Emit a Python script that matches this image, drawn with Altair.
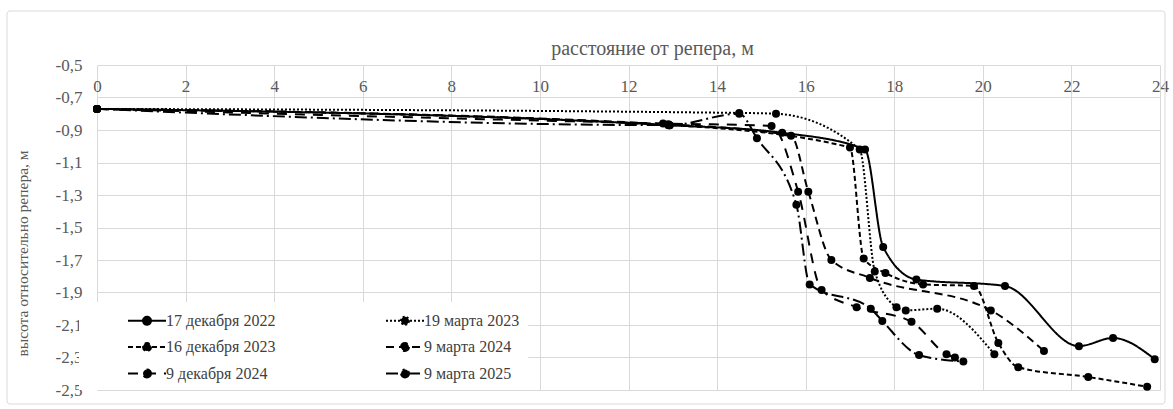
import altair as alt
import pandas as pd

# ---------------- data ----------------
series = ["17 декабря 2022", "19 марта 2023", "16 декабря 2023",
          "9 марта 2024", "9 декабря 2024", "9 марта 2025"]

dist_dec2022 = [0, 12.9, 15.47, 17.34, 17.75, 18.5, 20.5, 22.17, 22.94, 23.88]
h_dec2022 = [-0.77, -0.87, -0.917, -1.02, -1.62, -1.82, -1.86, -2.23, -2.18, -2.31]

dist_mar2023 = [0, 14.5, 15.33, 17.22, 17.56, 18.05, 18.26, 18.97, 20.26]
h_mar2023 = [-0.77, -0.795, -0.80, -1.02, -1.77, -1.99, -2.01, -2.00, -2.28]

dist_dec2023 = [0, 12.93, 17.0, 17.31, 17.80, 18.65, 19.80, 20.35, 20.80, 22.38, 23.71]
h_dec2023 = [-0.77, -0.87, -1.007, -1.69, -1.78, -1.85, -1.86, -2.21, -2.36, -2.42, -2.48]

dist_mar2024 = [0, 12.9, 15.67, 16.06, 16.58, 17.45, 20.18, 21.38]
h_mar2024 = [-0.77, -0.865, -0.935, -1.28, -1.70, -1.81, -2.01, -2.26]

dist_dec2024 = [0, 12.78, 15.23, 15.83, 16.36, 17.15, 18.39, 19.18, 19.37]
h_dec2024 = [-0.77, -0.86, -0.875, -1.28, -1.885, -1.99, -2.08, -2.28, -2.30]

dist_mar2025 = [0, 12.93, 14.5, 14.9, 15.79, 16.09, 17.47, 17.73, 18.56, 19.56]
h_mar2025 = [-0.77, -0.87, -0.80, -0.95, -1.36, -1.85, -2.00, -2.075, -2.285, -2.325]

x_ticks = [0, 2, 4, 6, 8, 10, 12, 14, 16, 18, 20, 22, 24]
y_ticks = [-0.5, -0.7, -0.9, -1.1, -1.3, -1.5, -1.7, -1.9, -2.1, -2.3, -2.5]

dash_patterns = [[1, 0], [2, 2], [5, 3], [8, 5], [10, 8], [12, 4, 2, 4]]

all_x = [dist_dec2022, dist_mar2023, dist_dec2023, dist_mar2024, dist_dec2024, dist_mar2025]
all_y = [h_dec2022, h_mar2023, h_dec2023, h_mar2024, h_dec2024, h_mar2025]

rows = []
for name, xs, ys in zip(series, all_x, all_y):
    for i, (xv, yv) in enumerate(zip(xs, ys)):
        rows.append({"series": name, "i": i, "x": xv, "y": yv})
df = pd.DataFrame(rows)

# ---------------- styling ----------------
FONT = "Liberation Serif"
GRAY = "#595959"
GRID = "#d9d9d9"
SYMBOL = "M-2,0L2,0M0.42,0A0.42,0.42,0,1,1,-0.42,0A0.42,0.42,0,1,1,0.42,0Z"
PAD = "\u00a0" * 17

x_enc = alt.X(
    "x:Q",
    scale=alt.Scale(domain=[0, 24], nice=False, zero=False),
    axis=alt.Axis(
        orient="top", values=x_ticks, tickCount=len(x_ticks), title="расстояние  от репера, м",
        grid=True, gridColor=GRID, gridWidth=1, domain=False, ticks=False, tickSize=0,
        labelFont=FONT, labelFontSize=17, labelColor=GRAY, labelPadding=-21,
        labelBaseline="middle", labelFlush=False, labelOverlap=False,
        titleFont=FONT, titleFontSize=20, titleColor=GRAY, titleFontWeight="normal",
        titleX=555, titleY=-11, titleAlign="center", titleBaseline="alphabetic",
    ),
)
y_enc = alt.Y(
    "y:Q",
    scale=alt.Scale(domain=[-2.5, -0.5], nice=False, zero=False),
    axis=alt.Axis(
        values=y_ticks, tickCount=len(y_ticks), title="высота относительно репера, м",
        labelExpr="'-' + replace(format(abs(datum.value), '.1f'), '.', ',')",
        grid=True, gridColor=GRID, gridWidth=1, domain=False, ticks=False, tickSize=0,
        labelFont=FONT, labelFontSize=17, labelColor=GRAY, labelPadding=15,
        labelOverlap=False,
        titleFont=FONT, titleFontSize=15.5, titleColor=GRAY, titleFontWeight="normal",
        titleX=-75, titleY=188, titleAngle=270, titleAlign="center", titleBaseline="middle",
    ),
)

legend = alt.Legend(
    title=None, orient="none", legendX=-18, legendY=237, columns=2, direction="horizontal",
    fillColor="white", padding=8,
    symbolType=SYMBOL, symbolSize=361, symbolStrokeWidth=2,
    symbolStrokeColor="black", symbolFillColor="black",
    symbolOffset=49.5, labelOffset=8.5, columnPadding=69, rowPadding=7.5,
    labelFont=FONT, labelFontSize=16, labelColor="#404040", labelLimit=400,
    labelExpr="indexof(datum.label, 'марта') >= 0 ? datum.label + '" + PAD + "' : datum.label",
)

frame = alt.Chart(alt.Data(values=[{}])).mark_rect(
    fill="transparent", stroke=GRID, strokeWidth=1, cornerRadius=3
).encode(
    x=alt.value(-90), x2=alt.value(1068), y=alt.value(-54), y2=alt.value(339)
)

lines = alt.Chart(df).mark_line(
    color="black", strokeWidth=2, interpolate="monotone"
).encode(
    x=x_enc, y=y_enc,
    strokeDash=alt.StrokeDash(
        "series:N", scale=alt.Scale(domain=series, range=dash_patterns), legend=legend
    ),
    order=alt.Order("i:Q"),
)

points = alt.Chart(df).mark_circle(size=64, color="black", opacity=1).encode(
    x=x_enc, y=y_enc
)

chart = alt.layer(frame, lines, points).properties(
    width=1063, height=325,
    autosize=alt.AutoSizeParams(type="none"),
    padding={"left": 97, "top": 65, "right": 13, "bottom": 19},
    background="white",
).configure_view(strokeWidth=0)

chart.save("out.html", embed_options={"renderer": "svg", "actions": False})
